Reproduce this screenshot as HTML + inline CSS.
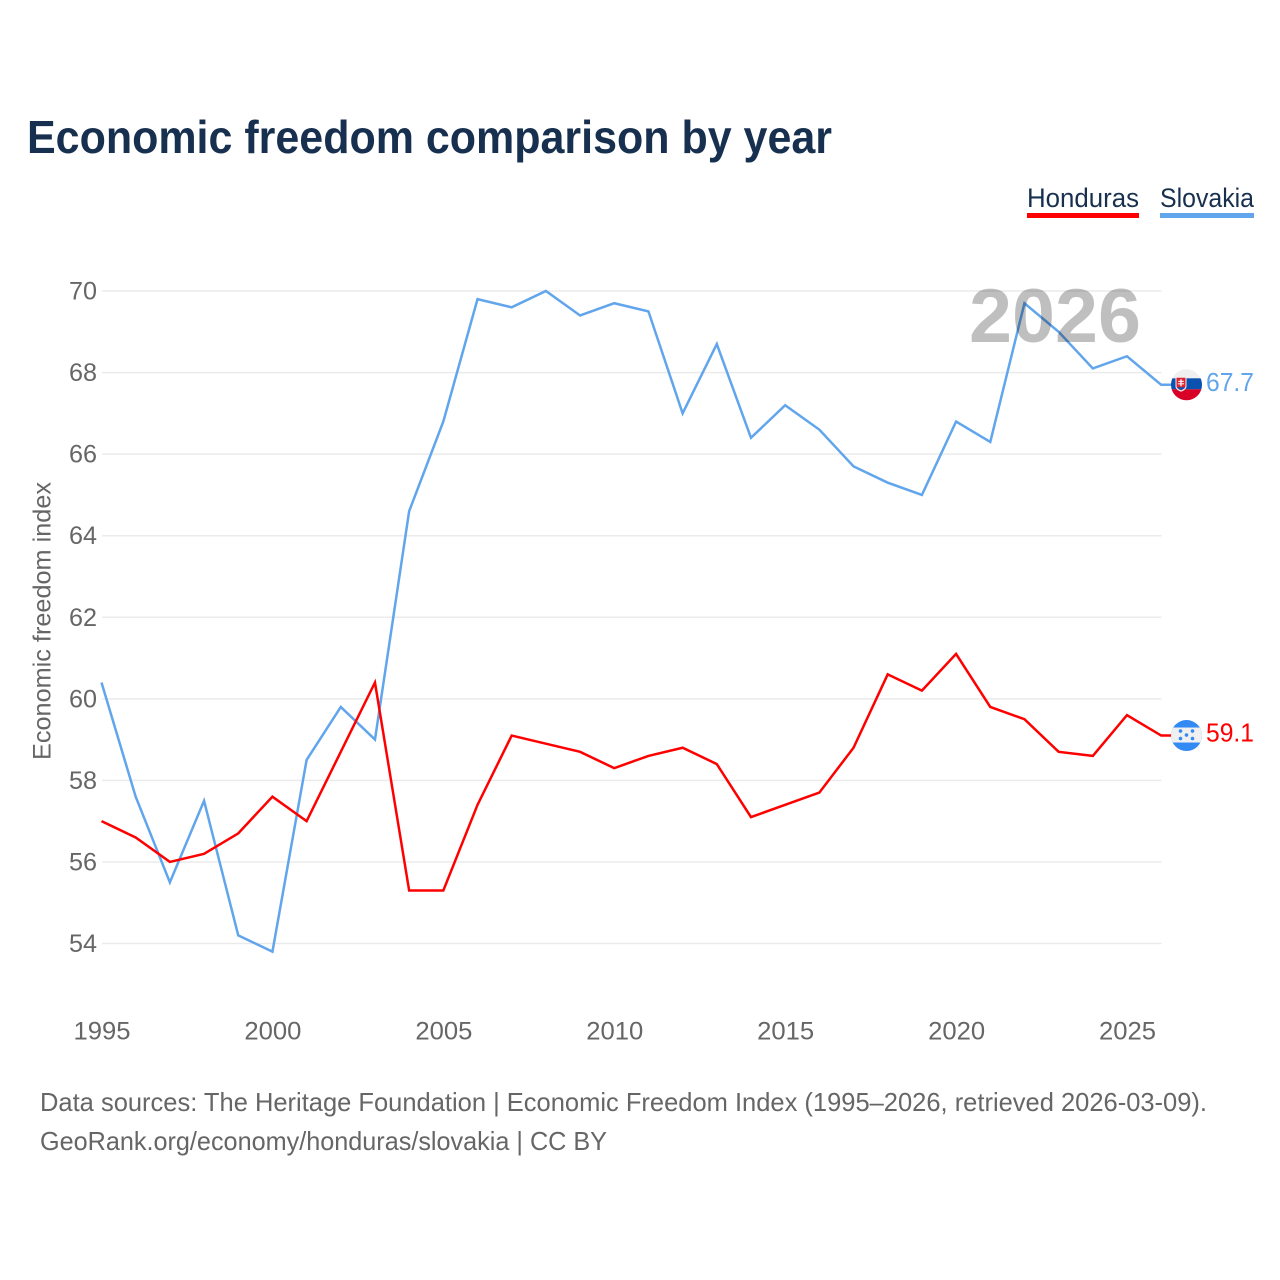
<!DOCTYPE html>
<html lang="en">
<head>
<meta charset="utf-8">
<title>Economic freedom comparison by year</title>
<style>
html,body{margin:0;padding:0;background:#fff;width:1280px;height:1280px;overflow:hidden}
svg{display:block;font-family:"Liberation Sans",sans-serif}
</style>
</head>
<body>
<svg id="chart" xmlns="http://www.w3.org/2000/svg" width="1280" height="1280" viewBox="0 0 1280 1280">
  <rect width="1280" height="1280" fill="#fff"/>
  <text x="27" y="153" font-size="46" font-weight="700" fill="#18304f" textLength="805" lengthAdjust="spacingAndGlyphs">Economic freedom comparison by year</text>

  <g>
    <text x="1027" y="207" font-size="27" fill="#18304f" textLength="112" lengthAdjust="spacingAndGlyphs">Honduras</text>
    <rect x="1027" y="213" width="112" height="5" fill="#ff0000"/>
  </g>
  <g>
    <text x="1160" y="207" font-size="27" fill="#18304f" textLength="94" lengthAdjust="spacingAndGlyphs">Slovakia</text>
    <rect x="1160" y="213" width="94" height="5" fill="#61a5ec"/>
  </g>

  <g id="grid"></g>
  <g id="y-ticks"></g>
  <g id="x-ticks"></g>
  <text transform="translate(50.5,760) rotate(-90)" font-size="25" fill="#666" textLength="278" lengthAdjust="spacingAndGlyphs">Economic freedom index</text>

  <g id="series"></g>

  <text x="969" y="342" font-size="76" font-weight="700" fill="#000" fill-opacity="0.25" textLength="172" lengthAdjust="spacingAndGlyphs">2026</text>

  <defs>
    <clipPath id="flag-clip"><circle cx="0" cy="0" r="15.5"/></clipPath>
  </defs>

  <g id="flag-slovakia">
    <g clip-path="url(#flag-clip)">
      <rect x="-16" y="-16" width="32" height="32" fill="#f0f0f0"/>
      <rect x="-16" y="-6.5" width="32" height="11" fill="#0b52b0"/>
      <rect x="-16" y="4.5" width="32" height="12" fill="#d80027"/>
      <path d="M-11 -8H0V1.5C0 4.5 -3.5 6.2 -5.5 7C-7.5 6.2 -11 4.5 -11 1.5Z" fill="#f0f0f0"/>
      <path d="M-10 -7H-1V1.2C-1 3.4 -3.8 4.8 -5.5 5.6C-7.2 4.8 -10 3.4 -10 1.2Z" fill="#e0202f"/>
      <path d="M-6.2 -5.6H-4.8V-4H-2.8V-2.8H-4.8V-1.6H-2.4V-0.4H-4.8V1.4H-6.2V-0.4H-8.6V-1.6H-6.2V-2.8H-8.2V-4H-6.2Z" fill="#f0f0f0"/>
      <path d="M-9.4 2.4H-1.6C-2.2 3.8 -4 4.6 -5.5 5.3C-7 4.6 -8.8 3.8 -9.4 2.4Z" fill="#0b52b0"/>
    </g>
  </g>
  <g id="flag-honduras">
    <g clip-path="url(#flag-clip)">
      <rect x="-16" y="-16" width="32" height="32" fill="#338af3"/>
      <rect x="-16" y="-8" width="32" height="15" fill="#f0f0f0"/>
      <g fill="#338af3">
        <circle cx="-6" cy="-4.5" r="1.8"/>
        <circle cx="6" cy="-4.5" r="1.8"/>
        <circle cx="0" cy="-0.5" r="1.8"/>
        <circle cx="-6" cy="3" r="1.8"/>
        <circle cx="6" cy="3" r="1.8"/>
      </g>
    </g>
  </g>

  <text id="value-slovakia" x="1206" font-size="26" fill="#61a5ec" textLength="48" lengthAdjust="spacingAndGlyphs"></text>
  <text id="value-honduras" x="1206" font-size="26" fill="#ff0000" textLength="48" lengthAdjust="spacingAndGlyphs"></text>

  <text x="40" y="1111" font-size="26" fill="#666" textLength="1167" lengthAdjust="spacingAndGlyphs">Data sources: The Heritage Foundation | Economic Freedom Index (1995–2026, retrieved 2026-03-09).</text>
  <text x="40" y="1150" font-size="26" fill="#666" textLength="567" lengthAdjust="spacingAndGlyphs">GeoRank.org/economy/honduras/slovakia | CC BY</text>
</svg>

<script>
const years = [1995,1996,1997,1998,1999,2000,2001,2002,2003,2004,2005,2006,2007,2008,2009,2010,2011,2012,2013,2014,2015,2016,2017,2018,2019,2020,2021,2022,2023,2024,2025,2026];
const hondurasValues = [57.0,56.6,56.0,56.2,56.7,57.6,57.0,58.7,60.4,55.3,55.3,57.4,59.1,58.9,58.7,58.3,58.6,58.8,58.4,57.1,57.4,57.7,58.8,60.6,60.2,61.1,59.8,59.5,58.7,58.6,59.6,59.1];
const slovakiaValues = [60.4,57.6,55.5,57.5,54.2,53.8,58.5,59.8,59.0,64.6,66.8,69.8,69.6,70.0,69.4,69.7,69.5,67.0,68.7,66.4,67.2,66.6,65.7,65.3,65.0,66.8,66.3,69.7,69.0,68.1,68.4,67.7];
const yTickValues = [54,56,58,60,62,64,66,68,70];
const xTickValues = [1995,2000,2005,2010,2015,2020,2025];

const NS = 'http://www.w3.org/2000/svg';
const xScale = function (year) { return 101.5 + (year - 1995) * (1127 - 101.5) / 30; };
const yScale = function (value) { return 943.5 - (value - 54) * (943.5 - 291) / 16; };

const gridGroup = document.getElementById('grid');
const yTickGroup = document.getElementById('y-ticks');
const xTickGroup = document.getElementById('x-ticks');
const seriesGroup = document.getElementById('series');

yTickValues.forEach(function (tick) {
  const line = document.createElementNS(NS, 'line');
  
  
  line.setAttribute('x1', 102);
  line.setAttribute('x2', 1161.5);
  line.setAttribute('y1', yScale(tick));
  line.setAttribute('y2', yScale(tick));
  line.setAttribute('stroke', '#ebebeb');
  line.setAttribute('stroke-width', '1.5');
  gridGroup.appendChild(line);

  const label = document.createElementNS(NS, 'text');
  
  
  label.setAttribute('x', 97);
  label.setAttribute('y', yScale(tick) + 8.5);
  label.setAttribute('text-anchor', 'end');
  label.setAttribute('font-size', '25');
  label.setAttribute('fill', '#666');
  label.setAttribute('textLength', '28');
  label.setAttribute('lengthAdjust', 'spacingAndGlyphs');
  label.textContent = tick;
  yTickGroup.appendChild(label);
});

xTickValues.forEach(function (tick) {
  const label = document.createElementNS(NS, 'text');
  
  
  label.setAttribute('x', xScale(tick) - 28);
  label.setAttribute('y', 1039.5);
  label.setAttribute('font-size', '25');
  label.setAttribute('fill', '#666');
  label.setAttribute('textLength', '57');
  label.setAttribute('lengthAdjust', 'spacingAndGlyphs');
  label.textContent = tick;
  xTickGroup.appendChild(label);
});

function drawSeries(values, color, seriesName) {
  const points = values.map(function (value, i) {
    return xScale(years[i]).toFixed(2) + ',' + yScale(value).toFixed(2);
  });
  const lastY = yScale(values[values.length - 1]);
  points.push('1172,' + lastY.toFixed(2));
  const path = document.createElementNS(NS, 'polyline');
  
  
  path.setAttribute('points', points.join(' '));
  path.setAttribute('fill', 'none');
  path.setAttribute('stroke', color);
  path.setAttribute('stroke-width', '2.5');
  path.setAttribute('stroke-linejoin', 'miter');
  seriesGroup.appendChild(path);

  document.getElementById('flag-' + seriesName).setAttribute('transform', 'translate(1186.5,' + lastY.toFixed(2) + ')');
  const valueLabel = document.getElementById('value-' + seriesName);
  valueLabel.setAttribute('y', (lastY + 6).toFixed(2));
  valueLabel.textContent = values[values.length - 1].toFixed(1);
}

drawSeries(slovakiaValues, '#61a5ec', 'slovakia');
drawSeries(hondurasValues, '#ff0000', 'honduras');
</script>
</body>
</html>
